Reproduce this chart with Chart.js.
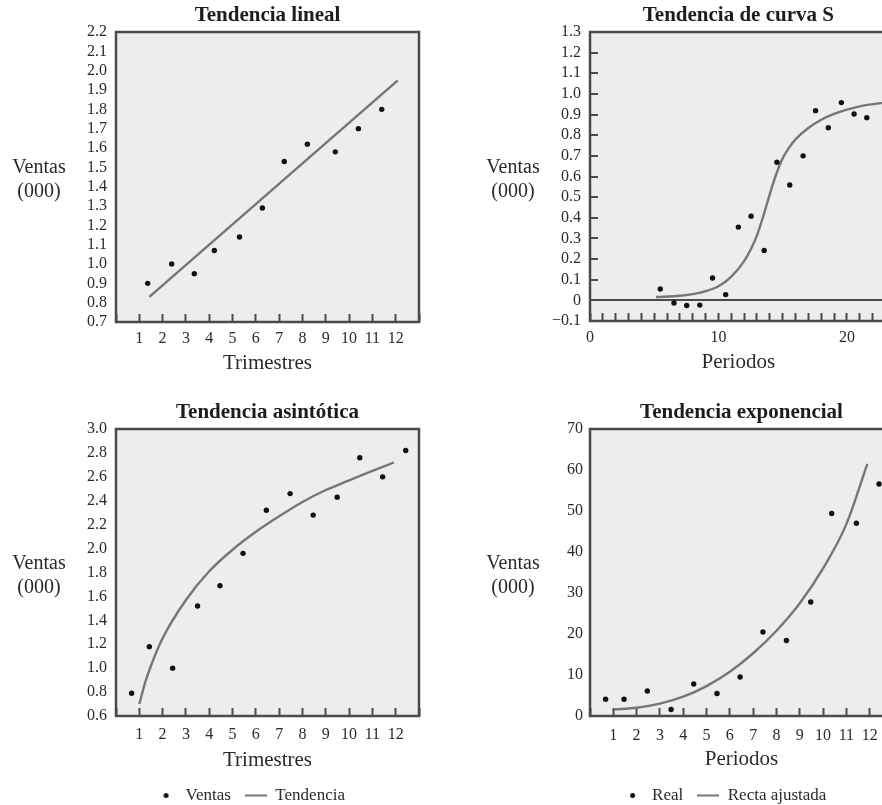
<!DOCTYPE html>
<html><head><meta charset="utf-8">
<script src="https://cdn.jsdelivr.net/npm/chart.js@4.4.1/dist/chart.umd.min.js"></script>
<style>
html,body{margin:0;padding:0;background:#fff;overflow:hidden;width:882px;height:805px;position:relative;}
canvas{position:absolute;}
</style></head><body>
<canvas id="cLineal" width="441" height="378" style="left:0px;top:0px"></canvas>
<canvas id="cCurvaS" width="460" height="378" style="left:441px;top:0px"></canvas>
<canvas id="cAsint" width="500" height="424" style="left:0px;top:390px"></canvas>
<canvas id="cExpo" width="566" height="424" style="left:441px;top:390px"></canvas>
<script>
// ---------- DATA ----------
const yAxisLabel = ['Ventas', '(000)'];

// Tendencia lineal
const linealX = [1.36, 2.39, 3.36, 4.22, 5.30, 6.28, 7.22, 8.21, 9.41, 10.40, 11.40];
const linealY = [0.90, 1.00, 0.95, 1.07, 1.14, 1.29, 1.53, 1.62, 1.58, 1.70, 1.80];
const linealTrendX = [1.43, 12.09];
const linealTrendY = [0.83, 1.95];
const linealYTicks = [0.7, 0.8, 0.9, 1.0, 1.1, 1.2, 1.3, 1.4, 1.5, 1.6, 1.7, 1.8, 1.9, 2.0, 2.1, 2.2];
const linealYLabels = ['0.7','0.8','0.9','1.0','1.1','1.2','1.3','1.4','1.5','1.6','1.7','1.8','1.9','2.0','2.1','2.2'];

// Tendencia de curva S
const curvaSX = [5.47, 6.54, 7.53, 8.55, 9.54, 10.56, 11.55, 12.54, 13.56, 14.55, 15.55, 16.59, 17.56, 18.55, 19.57, 20.56, 21.55];
const curvaSY = [0.055, -0.013, -0.025, -0.023, 0.108, 0.028, 0.355, 0.408, 0.242, 0.669, 0.559, 0.70, 0.919, 0.836, 0.958, 0.903, 0.885];
const curvaSTrendX = [5.14, 7.0, 8.5, 10.0, 11.0, 12.0, 12.5, 13.0, 13.5, 14.0, 14.5, 15.0, 15.5, 16.0, 17.0, 18.0, 19.0, 20.0, 21.0, 22.3, 23.1];
const curvaSTrendY = [0.016, 0.022, 0.036, 0.068, 0.115, 0.19, 0.245, 0.315, 0.41, 0.515, 0.612, 0.688, 0.74, 0.78, 0.835, 0.875, 0.903, 0.924, 0.94, 0.953, 0.958];
const curvaSYTicks = [-0.1, 0, 0.1, 0.2, 0.3, 0.4, 0.5, 0.6, 0.7, 0.8, 0.9, 1.0, 1.1, 1.2, 1.3];
const curvaSYLabels = ['\u22120.1','0','0.1','0.2','0.3','0.4','0.5','0.6','0.7','0.8','0.9','1.0','1.1','1.2','1.3'];
const curvaSXTicks = [0,1,2,3,4,5,6,7,8,9,10,11,12,13,14,15,16,17,18,19,20,21,22,23];
const curvaSXLabels = ['0','','','','','','','','','','10','','','','','','','','','','20','','',''];

// Tendencia asintótica
const asintX = [0.67, 1.43, 2.43, 3.50, 4.46, 5.45, 6.45, 7.47, 8.46, 9.49, 10.46, 11.44, 12.43];
const asintY = [0.79, 1.18, 1.00, 1.52, 1.69, 1.96, 2.32, 2.46, 2.28, 2.43, 2.76, 2.60, 2.82];
const asintTrendX = [1.0, 1.25, 1.5, 2.0, 3.0, 4.0, 5.0, 6.0, 7.0, 8.0, 9.0, 10.0, 11.0, 11.92];
const asintTrendY = [0.70, 0.88, 1.02, 1.25, 1.57, 1.81, 1.99, 2.14, 2.27, 2.39, 2.49, 2.57, 2.65, 2.72];
const asintYTicks = [0.6, 0.8, 1.0, 1.2, 1.4, 1.6, 1.8, 2.0, 2.2, 2.4, 2.6, 2.8, 3.0];
const asintYLabels = ['0.6','0.8','1.0','1.2','1.4','1.6','1.8','2.0','2.2','2.4','2.6','2.8','3.0'];

// Tendencia exponencial
const expoX = [0.67, 1.46, 2.46, 3.48, 4.45, 5.45, 6.44, 7.42, 8.43, 9.47, 10.37, 11.43, 12.40];
const expoY = [4.1, 4.1, 6.1, 1.6, 7.8, 5.5, 9.5, 20.5, 18.4, 27.8, 49.4, 47.0, 56.6];
const expoTrendX = [1.03, 2, 3, 4, 5, 6, 7, 8, 9, 10, 11, 11.9];
const expoTrendY = [1.6, 2.0, 3.0, 4.7, 7.3, 10.8, 15.3, 20.8, 27.5, 36.0, 46.8, 61.5];
const expoYTicks = [0, 10, 20, 30, 40, 50, 60, 70];
const expoYLabels = ['0','10','20','30','40','50','60','70'];

// shared quarter axis
const trimTicks = [0,1,2,3,4,5,6,7,8,9,10,11,12,13];
const trimLabels = ['','1','2','3','4','5','6','7','8','9','10','11','12',''];

const titles = ['Tendencia lineal', 'Tendencia de curva S', 'Tendencia asint\u00f3tica', 'Tendencia exponencial'];
const xTitles = ['Trimestres', 'Periodos'];
const legendVentas = ['Ventas', 'Tendencia'];
const legendReal = ['Real', 'Recta ajustada'];

// ---------- STYLE ----------
const FONT = "'Liberation Serif', 'Times New Roman', serif";
Chart.defaults.font.family = FONT;
Chart.defaults.color = '#2a2a2a';
const textColor = '#2a2a2a';
const frameColor = '#4a4a4a';
const plotBg = '#ededed';
const lineColor = '#767676';
const dotColor = '#111111';

const dotImg = document.createElement('canvas');
dotImg.width = 7; dotImg.height = 7;
{ const g = dotImg.getContext('2d'); g.fillStyle = dotColor; g.beginPath(); g.arc(3.5, 3.5, 2.5, 0, Math.PI * 2); g.fill(); }
const lineImg = document.createElement('canvas');
lineImg.width = 22; lineImg.height = 4;
{ const g = lineImg.getContext('2d'); g.fillStyle = lineColor; g.fillRect(0, 1, 22, 2); }

const plotDecor = {
  id: 'plotDecor',
  beforeDraw(chart) {
    const a = chart.chartArea, c = chart.ctx;
    c.save(); c.fillStyle = plotBg; c.fillRect(a.left, a.top, a.right - a.left, a.bottom - a.top); c.restore();
  },
  afterDraw(chart) {
    const a = chart.chartArea, c = chart.ctx;
    c.save();
    c.strokeStyle = frameColor; c.lineWidth = 2.5;
    c.strokeRect(a.left, a.top, a.right - a.left, a.bottom - a.top);
    c.fillStyle = textColor; c.font = '20px ' + FONT; c.textAlign = 'center'; c.textBaseline = 'middle';
    const cx = a.left - 77, cy = (a.top + a.bottom) / 2;
    c.fillText(yAxisLabel[0], cx, cy - 9);
    c.fillText(yAxisLabel[1], cx, cy + 15);
    c.restore();
  }
};

function makeChart(id, p) {
  const datasets = [
    { label: p.legend[0], data: p.px.map((x, i) => ({ x, y: p.py[i] })), showLine: false,
      pointRadius: 2.7, pointHoverRadius: 2.7, pointBackgroundColor: dotColor, pointBorderWidth: 0,
      backgroundColor: dotColor, borderColor: dotColor, order: 0 },
    { label: p.legend[1], data: p.tx.map((x, i) => ({ x, y: p.ty[i] })), showLine: true,
      pointRadius: 0, pointHoverRadius: 0, borderColor: lineColor, backgroundColor: lineColor,
      borderWidth: 2.4, cubicInterpolationMode: 'monotone', fill: false, order: 1 }
  ];
  const scales = {
    x: {
      type: 'linear', min: p.xmin, max: p.xmax,
      afterBuildTicks: s => { s.ticks = p.xTicks.map(v => ({ value: v })); },
      afterFit: s => { s.height = p.xH; },
      ticks: { callback: (v, i) => p.xLabels[i], padding: p.xPad, autoSkip: false, maxRotation: 0, font: { size: 16 }, color: textColor },
      grid: { display: true, drawOnChartArea: false, drawTicks: true, tickLength: -8, tickColor: frameColor, tickWidth: 2 },
      border: { display: false },
      title: { display: true, text: p.xTitle, font: { size: 21 }, color: textColor, padding: { top: 0, bottom: p.xTitlePad } }
    },
    y: {
      type: 'linear', min: p.ymin, max: p.ymax,
      afterBuildTicks: s => { s.ticks = p.yTicks.map(v => ({ value: v })); },
      afterFit: s => { s.width = p.left; },
      ticks: { callback: (v, i) => p.yLabels[i], padding: p.yPad, autoSkip: false, font: { size: 16 }, color: textColor },
      grid: p.yGrid,
      border: { display: false }
    }
  };
  if (p.padAxis) {
    scales.pad = {
      type: 'linear', position: 'right', display: true,
      ticks: { display: false }, grid: { display: false, drawTicks: false }, border: { display: false },
      afterFit: s => { s.width = p.padAxis; }
    };
  }
  return new Chart(document.getElementById(id), {
    type: 'scatter',
    data: { datasets },
    options: {
      responsive: false, animation: false, devicePixelRatio: 1, events: [],
      layout: { padding: { left: 0, right: p.padRight || 0, top: 0, bottom: 0 } },
      scales,
      plugins: {
        title: { display: true, text: p.title, fullSize: false, font: { size: 21, weight: 'bold' }, color: '#1c1c1c',
                 padding: { top: p.tTop, bottom: p.tBottom } },
        legend: p.showLegend ? {
          display: true, position: 'bottom', fullSize: true,
          labels: {
            usePointStyle: true, pointStyleWidth: 22, padding: 14, font: { size: 17 }, color: textColor,
            generateLabels: chart => {
              const items = Chart.defaults.plugins.legend.labels.generateLabels(chart);
              items[0].pointStyle = dotImg; items[1].pointStyle = lineImg;
              return items;
            }
          }
        } : { display: false },
        tooltip: { enabled: false }
      }
    },
    plugins: [plotDecor]
  });
}

const noYGrid = { display: false, drawTicks: false };

makeChart('cLineal', {
  title: titles[0], xTitle: xTitles[0], legend: legendVentas, showLegend: false,
  px: linealX, py: linealY, tx: linealTrendX, ty: linealTrendY,
  xmin: 0, xmax: 13, xTicks: trimTicks, xLabels: trimLabels,
  ymin: 0.7, ymax: 2.2, yTicks: linealYTicks, yLabels: linealYLabels,
  left: 116, padRight: 22, tTop: 2.9, tBottom: 3.9, xH: 56, xPad: 14.8, xTitlePad: 2.4, yPad: 9, yGrid: noYGrid
});

makeChart('cCurvaS', {
  title: titles[1], xTitle: xTitles[1], legend: legendVentas, showLegend: false,
  px: curvaSX, py: curvaSY, tx: curvaSTrendX, ty: curvaSTrendY,
  xmin: 0, xmax: 23.1, xTicks: curvaSXTicks, xLabels: curvaSXLabels,
  ymin: -0.1, ymax: 1.3, yTicks: curvaSYTicks, yLabels: curvaSYLabels,
  left: 149, padRight: 8, tTop: 2.9, tBottom: 3.9, xH: 57, xPad: 15.5, xTitlePad: 2.9, yPad: 17,
  yGrid: { display: true, drawOnChartArea: true, lineWidth: 2,
           color: ctx => (ctx.tick && Math.abs(ctx.tick.value) < 1e-9) ? frameColor : 'rgba(0,0,0,0)',
           drawTicks: true, tickLength: -8, tickColor: frameColor, tickWidth: 2 }
});

makeChart('cAsint', {
  title: titles[2], xTitle: xTitles[0], legend: legendVentas, showLegend: true,
  px: asintX, py: asintY, tx: asintTrendX, ty: asintTrendY,
  xmin: 0, xmax: 13, xTicks: trimTicks, xLabels: trimLabels,
  ymin: 0.6, ymax: 3.0, yTicks: asintYTicks, yLabels: asintYLabels,
  left: 116, padAxis: 81, tTop: 9.9, tBottom: 3.9, xH: 57, xPad: 17.5, xTitlePad: 0.4, yPad: 9, yGrid: noYGrid
});

makeChart('cExpo', {
  title: titles[3], xTitle: xTitles[1], legend: legendReal, showLegend: true,
  px: expoX, py: expoY, tx: expoTrendX, ty: expoTrendY,
  xmin: 0, xmax: 13, xTicks: trimTicks, xLabels: trimLabels,
  ymin: 0, ymax: 70, yTicks: expoYTicks, yLabels: expoYLabels,
  left: 149, padAxis: 114, tTop: 10.4, tBottom: 3.4, xH: 57, xPad: 18.5, xTitlePad: 0.7, yPad: 7, yGrid: noYGrid
});
</script>
</body></html>
